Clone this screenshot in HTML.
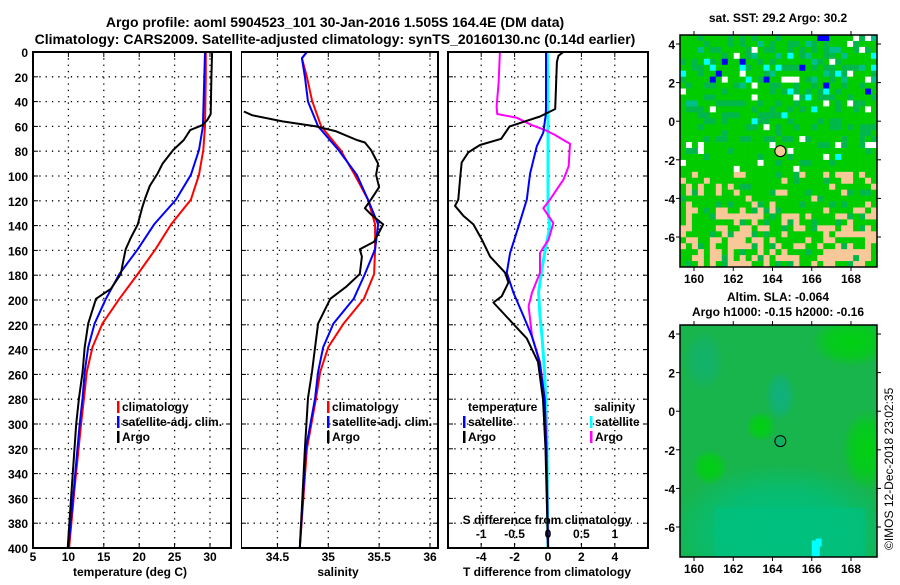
<!DOCTYPE html>
<html><head><meta charset="utf-8"><style>
html,body{margin:0;padding:0;background:#fff;}
svg text{font-family:"Liberation Sans",sans-serif;font-weight:bold;}
</style></head><body>
<svg id="c" width="900" height="580" xmlns="http://www.w3.org/2000/svg">
<defs>
<clipPath id="clip1"><rect x="680" y="35" width="197" height="232"/></clipPath>
<clipPath id="clip2"><rect x="680" y="325" width="197" height="232"/></clipPath>
</defs>
<text x="335" y="27" font-size="14" text-anchor="middle">Argo profile: aoml 5904523_101 30-Jan-2016 1.505S 164.4E (DM data)</text>
<text x="335" y="44" font-size="14" text-anchor="middle">Climatology: CARS2009. Satellite-adjusted climatology: synTS_20160130.nc (0.14d earlier)</text>
<text x="778" y="22" font-size="12" text-anchor="middle">sat. SST: 29.2 Argo: 30.2</text>
<text x="778" y="301" font-size="12" text-anchor="middle">Altim. SLA: -0.064</text>
<text x="778" y="316" font-size="12" text-anchor="middle">Argo h1000: -0.15 h2000: -0.16</text>
<text x="0" y="0" font-size="12" transform="translate(893,550) rotate(-90)" style="font-weight:normal">©IMOS 12-Dec-2018 23:02:35</text>
<g id="plots"></g>
</svg>
<script>
// ---------------- data ----------------
const depthTicks=[0,20,40,60,80,100,120,140,160,180,200,220,240,260,280,300,320,340,360,380,400];
const tempTicks=[5,10,15,20,25,30];
const salTicks=[34.5,35,35.5,36];
const tdiffTicks=[-4,-2,0,2,4];
const sdiffTicks=[-1,-0.5,0,0.5,1];
const lonTicks=[160,162,164,166,168];
const latTicks=[4,2,0,-2,-4,-6];

const tClimDepth=[0,20,40,60,79,99,119,139,159,179,199,219,238,258,279,300,350,400];
const tClimVal=[29.4,29.4,29.35,29.3,29.06,28.45,27.3,24.5,22.3,19.8,17.2,14.8,13.4,12.6,12.2,11.8,10.9,10.1];
const tSatDepth=[0,20,40,60,79,99,119,139,159,179,199,219,238,258,279,300,350,400];
const tSatVal=[29.3,29.2,29.1,29.0,28.45,27.3,25.2,22.1,19.8,17.2,15.3,13.7,12.8,12.3,12.0,11.6,10.8,10.0];
const tArgoDepth=[0,20,50,55,59,63,71,79,90,98,108,117,126,139,150,159,170,179,191,199,219,238,258,279,300,350,400];
const tArgoVal=[30.3,30.2,30.1,29.6,28.9,27.2,26.3,24.8,23.3,22.6,21.5,20.9,20.4,19.8,18.8,18.1,17.7,17.4,16.0,13.9,12.8,12.3,12.0,11.5,11.1,10.5,9.9];

const sClimDepth=[0,5,20,39,60,79,99,119,139,159,179,199,219,238,258,279,320,400];
const sClimVal=[34.79,34.74,34.79,34.84,34.93,35.12,35.26,35.39,35.46,35.46,35.45,35.35,35.15,35.0,34.92,34.88,34.79,34.72];
const sSatDepth=[0,5,20,40,60,79,99,119,139,159,179,199,219,238,258,279,320,400];
const sSatVal=[34.79,34.74,34.77,34.8,34.9,35.1,35.28,35.39,35.49,35.46,35.36,35.25,35.05,34.95,34.9,34.87,34.78,34.72];
const sArgoDepth=[48,51,56,60,64,71,73,79,90,99,109,119,126,131,139,153,159,165,179,189,199,219,238,258,279,320,400];
const sArgoVal=[34.17,34.25,34.55,34.88,35.08,35.28,35.36,35.42,35.49,35.47,35.5,35.42,35.36,35.42,35.54,35.45,35.31,35.33,35.31,35.18,35.02,34.9,34.87,34.84,34.8,34.77,34.72];

const dtSatDepth=[0,20,46,52,65,76,98,119,141,162,178,194,213,229,250,280,320,400];
const dtSatVal=[-0.12,-0.12,-0.12,-0.15,-0.28,-0.67,-1.07,-1.27,-1.77,-2.27,-2.47,-2.07,-1.47,-0.97,-0.5,-0.2,-0.1,0];
const dtArgoDepth=[0,3,8,46,52,60,70,75,81,89,103,119,124,132,139,151,165,178,186,197,202,218,231,250,280,320,400];
const dtArgoVal=[0.92,0.63,0.53,0.43,-0.48,-2.3,-2.8,-4.07,-4.77,-5.17,-5.27,-5.37,-5.57,-5.07,-4.47,-3.97,-3.47,-2.57,-2.37,-2.77,-3.27,-2.17,-1.27,-0.6,-0.3,-0.15,0];
const dsSatDepth=[0,50,100,126,141,162,178,194,213,229,260,300,400];
const dsSatVal=[-0.01,0,0,0,0.025,-0.05,-0.1,-0.14,-0.12,-0.09,-0.05,-0.02,0];
const dsArgoDepth=[0,25,44,50,53,59,63,67,71,74,92,103,111,119,126,138,151,162,178,194,205,229,250,280,320,400];
const dsArgoVal=[-0.72,-0.74,-0.77,-0.76,-0.47,-0.24,-0.04,0.11,0.23,0.33,0.31,0.23,0.13,0.03,-0.07,0.08,0.01,-0.12,-0.12,-0.24,-0.29,-0.24,-0.12,-0.05,-0.02,0];

// ---------------- helpers ----------------
const NS="http://www.w3.org/2000/svg";
const root=document.getElementById('plots');
function mk(tag,attrs,parent){const e=document.createElementNS(NS,tag);for(const k in attrs)e.setAttribute(k,attrs[k]);(parent||root).appendChild(e);return e;}
const Y0=52,Y1=548;
const yD=d=>Y0+(d/400)*(Y1-Y0);
function linScale(v0,p0,v1,p1){return v=>p0+(v-v0)*(p1-p0)/(v1-v0);}
const xT=linScale(5,33,30,210);
const xS=linScale(35,328.3,36,430);
const xDT=linScale(0,548,4,614.8);
const xDS=v=>xDT(v*4);

function frame(x0,x1,name){
  const g=mk('g',{});
  
  
  depthTicks.forEach(d=>{
    const y=yD(d);
    if(d>0&&d<400){const l=mk('line',{x1:x0,x2:x1,y1:y,y2:y,stroke:'#000','stroke-width':1.3,'stroke-dasharray':'1.3,5'},g);
    
    }
    mk('line',{x1:x0,x2:x0+5,y1:y,y2:y,stroke:'#000','stroke-width':1},g);
    mk('line',{x1:x1-5,x2:x1,y1:y,y2:y,stroke:'#000','stroke-width':1},g);
  });
  return g;
}
function vgrid(g,xs,sc){xs.forEach(v=>{const x=sc(v);
  const l=mk('line',{x1:x,x2:x,y1:Y0,y2:Y1,stroke:'#000','stroke-width':1.3,'stroke-dasharray':'1.3,5'},g);
  
  
  mk('line',{x1:x,x2:x,y1:Y1-5,y2:Y1,stroke:'#000'},g);mk('line',{x1:x,x2:x,y1:Y0,y2:Y0+5,stroke:'#000'},g);});}
function box(g,x0,x1){const r=mk('rect',{x:x0,y:Y0,width:x1-x0,height:Y1-Y0,fill:'none',stroke:'#000','stroke-width':2},g);
  
  }
function curve(g,ds,vs,sc,color,name,w){
  const pts=ds.map((d,i)=>sc(vs[i]).toFixed(1)+','+yD(d).toFixed(1)).join(' ');
  const p=mk('polyline',{points:pts,fill:'none',stroke:color,'stroke-width':w||2,'stroke-linejoin':'round'},g);
  
  
}
function txt(g,x,y,s,anchor,size,name){const t=mk('text',{x:x,y:y,'font-size':size||12,'text-anchor':anchor||'middle'},g);t.textContent=s;
  
  return t;}
function legend(g,x,y,items){items.forEach((it,i)=>{
  const yy=y+i*15;
  const b=mk('rect',{x:x,y:yy-10,width:2.5,height:12,fill:it[1]},g);
  
  
  txt(g,x+5,yy,it[0],'start',12,'legend-entry');});}

const ya=mk('g',{});


depthTicks.forEach(d=>txt(ya,28,yD(d)+5,String(d),'end',12,'depth-tick-label'));

// Panel 1
const p1=frame(33,231,'temperature-panel');
vgrid(p1,tempTicks.slice(1),xT);
curve(p1,tClimDepth,tClimVal,xT,'#f00','temp-climatology-line');
curve(p1,tSatDepth,tSatVal,xT,'#00f','temp-satellite-line');
curve(p1,tArgoDepth,tArgoVal,xT,'#000','temp-argo-line');
box(p1,33,231);
tempTicks.forEach(v=>txt(p1,xT(v),561,String(v),'middle',12,'temp-tick-label'));
txt(p1,130,576,'temperature (deg C)','middle',12,'temperature-axis-title');
legend(p1,117,411,[['climatology','#f00'],['satellite-adj. clim.','#00f'],['Argo','#000']]);

// Panel 2
const p2=frame(241,438,'salinity-panel');
vgrid(p2,salTicks,xS);
curve(p2,sClimDepth,sClimVal,xS,'#f00','sal-climatology-line');
curve(p2,sSatDepth,sSatVal,xS,'#00f','sal-satellite-line');
curve(p2,sArgoDepth,sArgoVal,xS,'#000','sal-argo-line');
mk('rect',{x:238,y:40,width:3,height:520,fill:'#fff'});
box(p2,241,438);
salTicks.forEach(v=>txt(p2,xS(v),561,String(v),'middle',12,'salinity-tick-label'));
txt(p2,338,576,'salinity','middle',12,'salinity-axis-title');
legend(p2,327,411,[['climatology','#f00'],['satellite-adj. clim.','#00f'],['Argo','#000']]);

// Panel 3
const p3=frame(448,648,'difference-panel');
vgrid(p3,tdiffTicks,xDT);
curve(p3,dsSatDepth,dsSatVal,xDS,'#0ff','sdiff-satellite-line',3);
curve(p3,dsArgoDepth,dsArgoVal,xDS,'#f0f','sdiff-argo-line');
curve(p3,dtSatDepth,dtSatVal,xDT,'#00f','tdiff-satellite-line');
curve(p3,dtArgoDepth,dtArgoVal,xDT,'#000','tdiff-argo-line');
box(p3,448,648);
tdiffTicks.forEach(v=>txt(p3,xDT(v),561,String(v),'middle',12,'tdiff-tick-label'));
sdiffTicks.forEach(v=>txt(p3,xDS(v),538,String(v),'middle',12,'sdiff-tick-label'));
txt(p3,547,524,'S difference from climatology','middle',12,'sdiff-axis-title');
txt(p3,547,576,'T difference from climatology','middle',12,'tdiff-axis-title');
txt(p3,468,411,'temperature','start',12,'legend-title-temperature');
legend(p3,463,426,[['satellite','#00f'],['Argo','#000']]);
txt(p3,594,411,'salinity','start',12,'legend-title-salinity');
legend(p3,590,426,[['satellite','#0ff'],['Argo','#f0f']]);

// ---------------- maps ----------------
function mapFrame(top,bot,name,clip){
  const g=mk('g',{});
  
  
  const inner=mk('g',{'clip-path':'url(#'+clip+')'},g);
  const xL=linScale(160,694,168,851);
  const yL=linScale(4,top+9,-6,top+9+193);
  return {g,inner,xL,yL,top,bot};
}
function mapAxes(m){
  const g=m.g;
  const r=mk('rect',{x:680,y:m.top,width:197,height:m.bot-m.top,fill:'none',stroke:'#000','stroke-width':1.5},g);
  
  
  lonTicks.forEach(v=>{const x=m.xL(v);mk('line',{x1:x,x2:x,y1:m.bot,y2:m.bot+4,stroke:'#000'},g);mk('line',{x1:x,x2:x,y1:m.top-4,y2:m.top,stroke:'#000'},g);
    txt(g,x,m.bot+16,String(v),'middle',12,'lon-tick-label');});
  latTicks.forEach(v=>{const y=m.yL(v);mk('line',{x1:676,x2:680,y1:y,y2:y,stroke:'#000'},g);mk('line',{x1:877,x2:881,y1:y,y2:y,stroke:'#000'},g);
    txt(g,675,y+5,String(v),'end',12,'lat-tick-label');});
  const c=mk('circle',{cx:m.xL(164.4),cy:m.yL(-1.55),r:5.5,fill:m.fill,stroke:'#000','stroke-width':1},g);
  
  
}
// SST map (decorative texture)
const m1=mapFrame(35,267,'sst-map','clip1');
m1.fill='#f8c898';
let seed=12345;function rnd(){seed=(seed*1103515245+12345)%2147483648;return seed/2147483648;}
const cw=197/33,ch=232/39;
for(let j=0;j<39;j++)for(let i=0;i<33;i++){
  const r=rnd(),lat=4.47-j*12.07/39,lon=159.29+i*10.04/33;let col='#00cc00';
  if(r<0.28&&lat>-1)col='#00b84a';else if(r<0.12)col='#00b84a';else if(r<0.33&&lat>1)col='#00c08a';
  const r2=rnd();
  const edge=(lon<162.5||lon>166.5);
  if(lat<-4.5&&r2<(edge?0.55:0.35))col='#f8c898';
  else if(lat<-2.5&&r2<(edge?0.2:0.1))col='#f8c898';
  else if(r2<0.035)col='#fff';
  else if(lat>1.5&&r2<0.09)col='#0ff';
  else if(lat>1.5&&r2<0.12)col='#00f';
  else if(r2<0.045)col='#0ff';
  mk('rect',{x:680+i*cw,y:35+j*ch,width:cw+0.3,height:ch+0.3,fill:col},m1.inner);
}
mapAxes(m1);
// SLA map
const m2=mapFrame(325,557,'sla-map','clip2');
m2.fill='#10b060';
const defs=document.querySelector('defs');
[['gA','#00c080'],['gB','#00d010'],['gC','#10b080']].forEach(a=>{const rg=mk('radialGradient',{id:a[0]},defs);
  mk('stop',{offset:'0','stop-color':a[1],'stop-opacity':1},rg);mk('stop',{offset:'0.6','stop-color':a[1],'stop-opacity':0.7},rg);mk('stop',{offset:'1','stop-color':a[1],'stop-opacity':0},rg);});
const mi=m2.inner;
mk('rect',{x:680,y:325,width:197,height:232,fill:'#18b44c'},mi);
mk('ellipse',{cx:m2.xL(164.5),cy:m2.yL(-6.3),rx:115,ry:70,fill:'url(#gA)'},mi);
mk('rect',{x:715,y:m2.yL(-5),width:150,height:557-m2.yL(-5),fill:'#00c080',opacity:0.7},mi);
mk('ellipse',{cx:m2.xL(164.4),cy:m2.yL(0.8),rx:15,ry:25,fill:'url(#gC)'},mi);
mk('ellipse',{cx:m2.xL(168.8),cy:m2.yL(-2),rx:25,ry:40,fill:'url(#gB)'},mi);
mk('ellipse',{cx:m2.xL(168),cy:m2.yL(3.6),rx:40,ry:25,fill:'url(#gB)'},mi);
mk('ellipse',{cx:m2.xL(163.4),cy:m2.yL(-0.8),rx:15,ry:15,fill:'url(#gB)'},mi);
mk('ellipse',{cx:m2.xL(160.8),cy:m2.yL(-2.9),rx:18,ry:18,fill:'url(#gB)'},mi);
mk('ellipse',{cx:m2.xL(160.5),cy:m2.yL(2.6),rx:20,ry:30,fill:'url(#gC)',opacity:0.6},mi);
mk('rect',{x:m2.xL(166),y:m2.yL(-6.7),width:8,height:557-m2.yL(-6.7),fill:'#0ff'},mi);
mk('rect',{x:m2.xL(166.2),y:m2.yL(-6.6),width:6,height:8,fill:'#0ff'},mi);
mapAxes(m2);
</script>
</body></html>
